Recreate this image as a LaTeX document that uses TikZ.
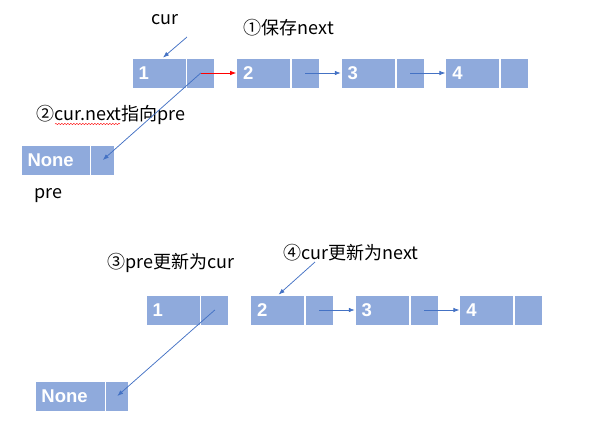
\documentclass[tikz,border=0pt]{standalone}
\usepackage{fontspec}
\setmainfont{Liberation Sans}
\newfontfamily\cjk{Noto Sans CJK SC}
\usepackage{tikz}
\usetikzlibrary{positioning, arrows.meta, decorations.pathmorphing}
\definecolor{boxblue}{RGB}{143,170,220}
\definecolor{lineblue}{RGB}{68,114,196}
\definecolor{Red}{rgb}{1,0,0}
\tikzstyle{dat}=[%
      rectangle, draw=white, line width=0.8pt, fill=boxblue, text=white,
      font=\fontsize{18.5}{18.5}\selectfont\bfseries, minimum height=30pt,
      text width=41pt, inner xsep=6.5pt, inner ysep=0pt, align=left
]
\tikzstyle{ptr}=[%
      rectangle, draw=white, line width=0.8pt, fill=boxblue,
      minimum height=30pt, minimum width=28pt, inner sep=0pt
]
\tikzstyle{lbl}=[font=\cjk\fontsize{18}{18}\selectfont, inner sep=0pt]
\tikzstyle{nxt}=[draw=lineblue, line width=0.75pt, -{Latex[length=6pt,width=4.5pt]}]

\begin{document}
\begin{tikzpicture}[x=1pt, y=-1pt]
    \useasboundingbox (0,0) rectangle (590,445);

    % before: 1 -> 2 -> 3 -> 4
    \node[dat]              (a1)                     at (159,73) {1};
    \node[ptr]              (a1p) [right = 0pt of a1]  {};
    \node[dat]              (a2)  [right = 21pt of a1p] {2};
    \node[ptr]              (a2p) [right = 0pt of a2]  {};
    \node[dat]              (a3)  [right = 21pt of a2p] {3};
    \node[ptr]              (a3p) [right = 0pt of a3]  {};
    \node[dat]              (a4)  [right = 21pt of a3p] {4};
    \node[ptr]              (a4p) [right = 0pt of a4]  {};
    \node[dat, text width=56pt] (n1) at (55.5,160) {None};
    \node[ptr, minimum width=24pt] (n1p) [right = 0pt of n1] {};

    \node[lbl] (cur)  at (165,20)  {cur};
    \node[lbl] (pre)  at (48,196)  {pre};
    \node[lbl] (st1)  at (289,28)  {①保存next};
    \node[lbl] (st2)  at (111,115) {②cur.next指向pre};
    \coordinate (curtail) at (187,37);

    \path (curtail)    edge[nxt]           ([xshift=4pt]a1.north)
          (a1p.center) edge[nxt, draw=Red] (a2.west)
          (a2p.center) edge[nxt]           (a3.west)
          (a3p.center) edge[nxt]           (a4.west)
          (a1p.center) edge[nxt]           (n1p.center)
    ;
    \draw[Red, line width=0.4pt, decorate, decoration={snake, amplitude=0.7pt, segment length=3pt}]
          (55,124) -- (120,124);

    % after: pre = 1, cur = 2
    \node[dat]              (b1)                     at (173,310) {1};
    \node[ptr]              (b1p) [right = 0pt of b1]  {};
    \node[dat]              (b2)  [right = 21pt of b1p] {2};
    \node[ptr]              (b2p) [right = 0pt of b2]  {};
    \node[dat]              (b3)  [right = 21pt of b2p] {3};
    \node[ptr]              (b3p) [right = 0pt of b3]  {};
    \node[dat]              (b4)  [right = 21pt of b3p] {4};
    \node[ptr]              (b4p) [right = 0pt of b4]  {};
    \node[dat, text width=57pt] (m1) at (70,396) {None};
    \node[ptr, minimum width=23pt] (m1p) [right = 0pt of m1] {};

    \node[lbl] (st3)  at (171,263) {③pre更新为cur};
    \node[lbl] (st4)  at (351,253) {④cur更新为next};
    \coordinate (st4tail) at (315,262);

    \path (st4tail)    edge[nxt] ([xshift=1pt]b2.north)
          (b1p.center) edge[nxt] (m1p.center)
          (b2p.center) edge[nxt] (b3.west)
          (b3p.center) edge[nxt] (b4.west)
    ;

  \end{tikzpicture}
\end{document}
